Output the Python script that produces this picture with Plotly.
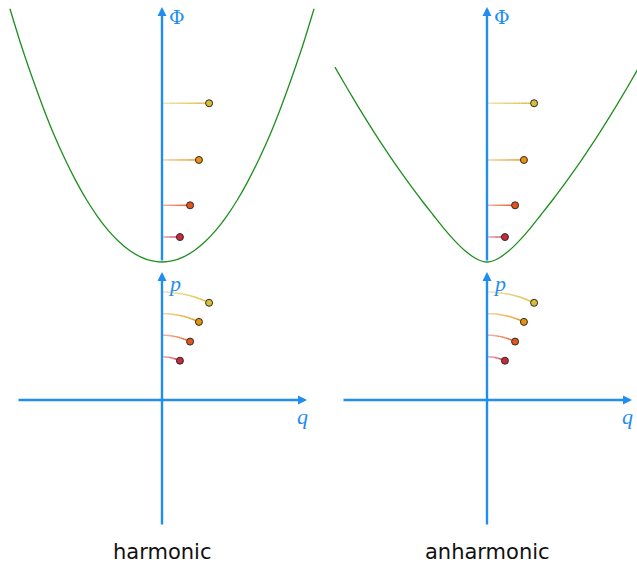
import numpy as np
import plotly.graph_objects as go

# ---- data -------------------------------------------------------------
# orbit radii in phase space (q, p units) for the four levels
radius = [2, 3, 4, 5]
# position q of the oscillator on each level
q_pos = [0.83, 1.30, 1.71, 2.18]
# energy of each level (Φ units)
energy = [1.98, 4.5, 8.1, 12.6]
level_colors = ["#c92a3a", "#e0561c", "#e8920e", "#d9bd3a"]

# harmonic potential Φ(q), sampled
q_harm = [-7.04, -6.5, -6, -5.5, -5, -4.5, -4, -3.5, -3, -2.5, -2, -1.5, -1, -0.5, 0,
          0.5, 1, 1.5, 2, 2.5, 3, 3.5, 4, 4.5, 5, 5.5, 6, 6.5, 7.04]
phi_harm = [20.1, 17.1, 14.6, 12.25, 10.1, 8.2, 6.48, 4.96, 3.65, 2.53, 1.62, 0.91, 0.41, 0.1, 0,
            0.1, 0.41, 0.91, 1.62, 2.53, 3.65, 4.96, 6.48, 8.2, 10.1, 12.25, 14.6, 17.1, 20.1]

# anharmonic potential Φ(q), sampled
q_anh = [-7.04, -6.5, -6, -5.5, -5, -4.5, -4, -3.5, -3, -2.5, -2, -1.5, -1, -0.5, 0,
         0.5, 1, 1.5, 2, 2.5, 3, 3.5, 4, 4.5, 5, 5.5, 6, 6.5, 7.04]
phi_anh = [15.47, 13.87, 12.43, 11.04, 9.70, 8.41, 7.17, 5.98, 4.84, 3.75, 2.67, 1.70, 0.87, 0.26, 0,
           0.26, 0.87, 1.70, 2.67, 3.75, 4.84, 5.98, 7.17, 8.41, 9.70, 11.04, 12.43, 13.87, 15.47]

panel_titles = ["harmonic", "anharmonic"]

# ---- style ------------------------------------------------------------
W, H = 637, 565
BLUE = "#1f8ef0"
GREEN = "#1d8f1d"
PX_Q = 21.6      # pixels per q / p unit
PX_PHI = 12.6    # pixels per Φ unit
ORIGIN_X = [162, 487]     # pixel column of the vertical axes
TOP_ZERO_Y = 262          # pixel row of Φ = 0
PHASE_ZERO_Y = 400        # pixel row of p = 0
TOP_BOTTOM_Y = 268        # boundary between the two rows of plots
PHASE_BOTTOM_Y = 540


def blend(hexc, t):
    r, g, b = (int(hexc[i:i + 2], 16) for i in (1, 3, 5))
    mix = lambda c: int(round(255 * (1 - t) + c * t))
    return f"rgb({mix(r)},{mix(g)},{mix(b)})"


fig = go.Figure()
layout = dict(width=W, height=H, margin=dict(l=0, r=0, t=0, b=0),
              paper_bgcolor="white", plot_bgcolor="rgba(0,0,0,0)",
              showlegend=False)

annotations = []
potentials = [(q_harm, phi_harm), (q_anh, phi_anh)]
NSEG = 14

for k in range(2):
    xt, yt = ("x", "y") if k == 0 else ("x2", "y2")
    xb, yb = ("x3", "y3") if k == 0 else ("x4", "y4")
    x0_px = 0 if k == 0 else W / 2
    x1_px = W / 2 if k == 0 else W
    ox = ORIGIN_X[k]
    xr = [(x0_px - ox) / PX_Q, (x1_px - ox) / PX_Q]
    dom_x = [x0_px / W, x1_px / W]
    top_range = [(TOP_ZERO_Y - TOP_BOTTOM_Y) / PX_PHI, TOP_ZERO_Y / PX_PHI]
    bot_range = [(PHASE_ZERO_Y - PHASE_BOTTOM_Y) / PX_Q,
                 (PHASE_ZERO_Y - TOP_BOTTOM_Y) / PX_Q]
    for name, dom_y, yr in [
        ("", [1 - TOP_BOTTOM_Y / H, 1], top_range),
        ("3", [1 - PHASE_BOTTOM_Y / H, 1 - TOP_BOTTOM_Y / H], bot_range),
    ]:
        idx = str(int(name) + k) if name else ("" if k == 0 else "2")
        ax_kw = dict(visible=False, fixedrange=True, showgrid=False, zeroline=False)
        layout["xaxis" + idx] = dict(domain=dom_x, range=xr, anchor="y" + idx, **ax_kw)
        layout["yaxis" + idx] = dict(domain=dom_y, range=yr, anchor="x" + idx, **ax_kw)

    # potential curve
    qq, pp = potentials[k]
    fig.add_trace(go.Scatter(x=qq, y=pp, mode="lines", xaxis=xt, yaxis=yt,
                             line=dict(color=GREEN, width=1.3, shape="spline", smoothing=0.8),
                             hoverinfo="skip"))

    # energy levels and phase-space arcs with fading colour
    for r, q, e, col in zip(radius, q_pos, energy, level_colors):
        p_end = np.sqrt(r ** 2 - q ** 2)
        xs = np.linspace(0, q, NSEG + 1)
        th = np.linspace(np.pi / 2, np.arctan2(p_end, q), NSEG + 1)
        for i in range(NSEG):
            t = 0.42 + 0.55 * i / (NSEG - 1)
            c = blend(col, t)
            fig.add_trace(go.Scatter(x=xs[i:i + 2], y=[e, e], mode="lines",
                                     xaxis=xt, yaxis=yt, hoverinfo="skip",
                                     line=dict(color=c, width=1.5)))
            ts = np.linspace(th[i], th[i + 1], 4)
            fig.add_trace(go.Scatter(x=r * np.cos(ts), y=r * np.sin(ts), mode="lines",
                                     xaxis=xb, yaxis=yb, hoverinfo="skip",
                                     line=dict(color=c, width=1.5)))
        mk = dict(size=7, color=col, line=dict(color="#2a2a2a", width=1))
        fig.add_trace(go.Scatter(x=[q], y=[e], mode="markers", xaxis=xt, yaxis=yt,
                                 marker=mk, cliponaxis=False, hoverinfo="skip"))
        fig.add_trace(go.Scatter(x=[q], y=[p_end], mode="markers", xaxis=xb, yaxis=yb,
                                 marker=mk, cliponaxis=False, hoverinfo="skip"))

    arrow = dict(showarrow=True, arrowhead=2, arrowsize=0.75, arrowwidth=2.4,
                 arrowcolor=BLUE, text="", standoff=0)
    # Φ axis
    annotations.append(dict(x=0, y=(TOP_ZERO_Y - 7) / PX_PHI, ax=0, ay=0,
                            xref=xt, yref=yt, axref=xt, ayref=yt, **arrow))
    # p axis
    annotations.append(dict(x=0, y=(PHASE_ZERO_Y - 272) / PX_Q, ax=0,
                            ay=(PHASE_ZERO_Y - 526) / PX_Q,
                            xref=xb, yref=yb, axref=xb, ayref=yb, **arrow))
    # q axis
    annotations.append(dict(x=145 / PX_Q, y=0, ax=-145 / PX_Q, ay=0,
                            xref=xb, yref=yb, axref=xb, ayref=yb, **arrow))
    # axis labels
    annotations.append(dict(x=15 / PX_Q, y=(TOP_ZERO_Y - 17) / PX_PHI, xref=xt, yref=yt,
                            text="Φ", showarrow=False,
                            font=dict(family="DejaVu Serif", size=19, color=BLUE)))
    annotations.append(dict(x=12 / PX_Q, y=(PHASE_ZERO_Y - 284) / PX_Q, xref=xb, yref=yb,
                            text="<i>p</i>", showarrow=False,
                            font=dict(family="Liberation Serif", size=22, color=BLUE)))
    annotations.append(dict(x=140 / PX_Q, y=(PHASE_ZERO_Y - 417) / PX_Q, xref=xb, yref=yb,
                            text="<i>q</i>", showarrow=False,
                            font=dict(family="Liberation Serif", size=22, color=BLUE)))
    # panel title
    annotations.append(dict(x=0, y=1 - 566 / H, xref=xb, yref="paper",
                            yanchor="bottom", height=22, valign="bottom",
                            text=panel_titles[k], showarrow=False,
                            font=dict(family="DejaVu Sans", size=21, color="#111111")))

layout["annotations"] = annotations
fig.update_layout(**layout)
fig.write_html("out.html")
